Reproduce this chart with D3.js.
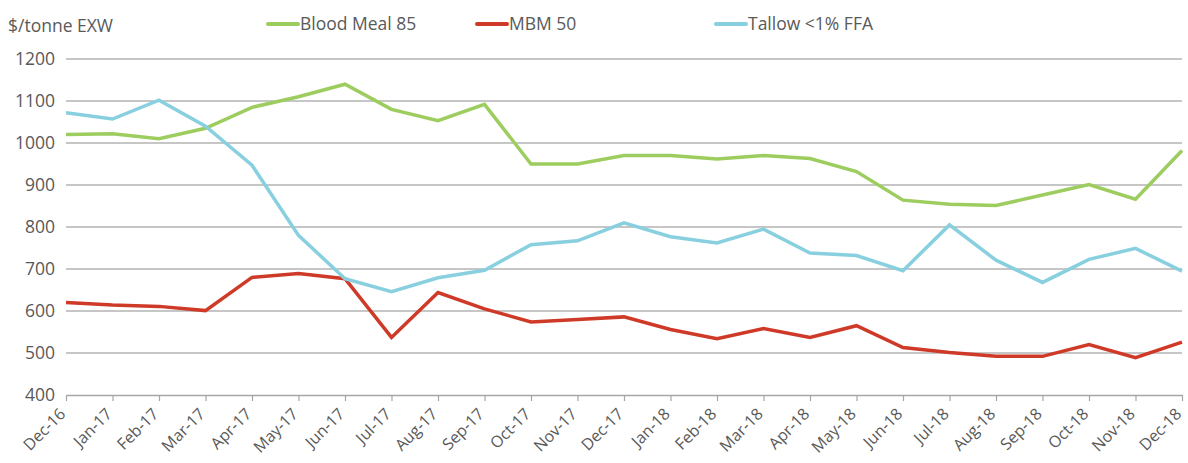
<!DOCTYPE html>
<html>
<head>
<meta charset="utf-8">
<script src="https://cdn.jsdelivr.net/npm/d3@7"></script>
<style>
  body { margin: 0; background: #fff; }
  text { font-family: "Open Sans", Lato, sans-serif; fill: #595959; }
</style>
</head>
<body>
<div id="chart"></div>
<script>
const months = ['Dec-16', 'Jan-17', 'Feb-17', 'Mar-17', 'Apr-17', 'May-17', 'Jun-17', 'Jul-17',
  'Aug-17', 'Sep-17', 'Oct-17', 'Nov-17', 'Dec-17', 'Jan-18', 'Feb-18', 'Mar-18', 'Apr-18',
  'May-18', 'Jun-18', 'Jul-18', 'Aug-18', 'Sep-18', 'Oct-18', 'Nov-18', 'Dec-18'];

const bloodMeal = [1020, 1022, 1010, 1035, 1085, 1110, 1140, 1080, 1053, 1092, 950, 950, 970,
  970, 962, 970, 963, 932, 864, 854, 851, 876, 901, 866, 982];
const mbm = [620, 614, 611, 601, 680, 689, 677, 537, 644, 605, 574, 580, 586,
  556, 534, 558, 537, 565, 513, 501, 492, 492, 520, 489, 526];
const tallow = [1072, 1057, 1102, 1040, 947, 780, 677, 646, 679, 697, 758, 767, 810,
  777, 762, 795, 738, 732, 696, 805, 721, 668, 723, 749, 695];

const yTicks = [400, 500, 600, 700, 800, 900, 1000, 1100, 1200];

const series = [
  { name: 'Blood Meal 85', values: bloodMeal, color: '#9dcc5f' },
  { name: 'MBM 50', values: mbm, color: '#cf3a28' },
  { name: 'Tallow <1% FFA', values: tallow, color: '#88d0df' },
];

const width = 1188;
const height = 463;
const margin = { top: 59, right: 6, bottom: 68, left: 66 };

const svg = d3.select('#chart').append('svg')
  .attr('width', width)
  .attr('height', height);

const x = d3.scalePoint()
  .domain(months)
  .range([margin.left, width - margin.right]);

const y = d3.scaleLinear()
  .domain([400, 1200])
  .range([height - margin.bottom, margin.top]);

// gridlines
svg.append('g')
  .selectAll('line')
  .data(yTicks.slice(1))
  .enter().append('line')
  .attr('x1', margin.left)
  .attr('x2', width - margin.right)
  .attr('y1', d => y(d))
  .attr('y2', d => y(d))
  .attr('stroke', '#b3b3b3')
  .attr('stroke-width', 1.5);

// y labels
svg.append('g')
  .selectAll('text')
  .data(yTicks)
  .enter().append('text')
  .attr('x', 55)
  .attr('y', d => y(d))
  .attr('dy', '0.36em')
  .attr('text-anchor', 'end')
  .style('font-size', '17.5px')
  .text(d => d);

// x axis
const xAxis = svg.append('g')
  .attr('transform', `translate(0,${y(400)})`)
  .call(d3.axisBottom(x).tickSize(6).tickSizeOuter(0));

xAxis.select('.domain').attr('stroke', '#a6a6a6').attr('stroke-width', 1.5);
xAxis.selectAll('.tick line').attr('stroke', '#a6a6a6').attr('stroke-width', 1.2);
xAxis.selectAll('.tick text')
  .attr('fill', '#595959')
  .style('font-size', '16px')
  .style('font-family', '"Open Sans", Lato, sans-serif')
  .attr('text-anchor', 'end')
  .attr('x', 0)
  .attr('y', 0)
  .attr('dy', 0)
  .attr('transform', 'translate(0,20) rotate(-45)');

// lines
const line = d3.line()
  .x((d, i) => x(months[i]))
  .y(d => y(d));

svg.append('g')
  .selectAll('path')
  .data(series)
  .enter().append('path')
  .attr('fill', 'none')
  .attr('stroke', d => d.color)
  .attr('stroke-width', 3.5)
  .attr('stroke-linejoin', 'miter')
  .attr('d', d => line(d.values));

// title
svg.append('text')
  .attr('x', 8)
  .attr('y', 32)
  .style('font-size', '17.5px')
  .text('$/tonne EXW');

// legend
const legendX = [268, 477, 716];
const legend = svg.append('g')
  .selectAll('g')
  .data(series)
  .enter().append('g')
  .attr('transform', (d, i) => `translate(${legendX[i]},24)`);

legend.append('line')
  .attr('x1', 0)
  .attr('x2', 30)
  .attr('stroke', d => d.color)
  .attr('stroke-width', 4)
  .attr('stroke-linecap', 'round');

legend.append('text')
  .attr('x', 32)
  .attr('dy', '0.36em')
  .style('font-size', '17.5px')
  .text(d => d.name);
</script>
</body>
</html>
